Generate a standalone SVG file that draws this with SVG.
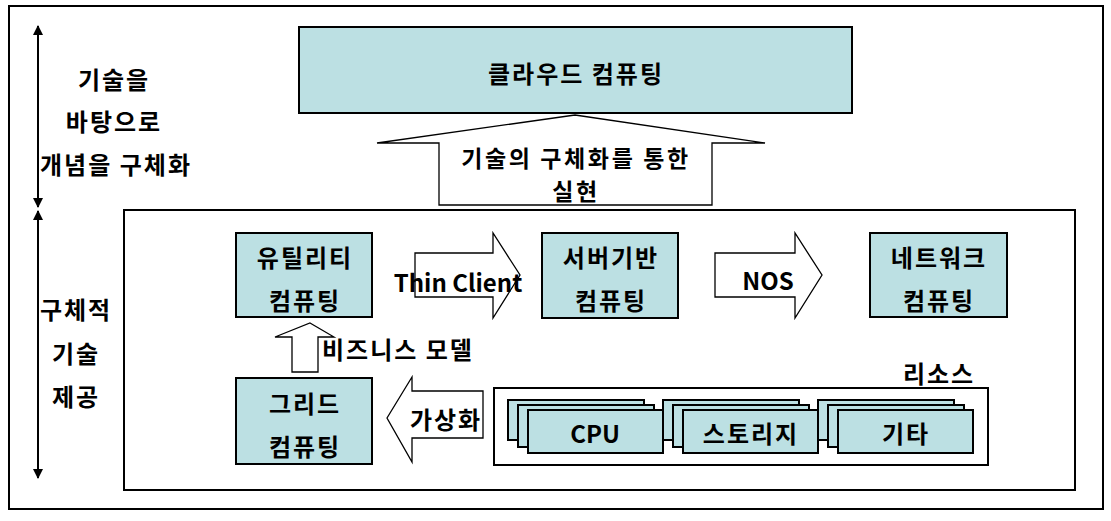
<svg xmlns="http://www.w3.org/2000/svg" width="1111" height="521" viewBox="0 0 1111 521">
<defs>
<style>
.t{font-family:"Noto Sans CJK KR","Noto Sans",sans-serif;font-weight:bold;font-size:24px;letter-spacing:2px;fill:#000;text-anchor:middle;dominant-baseline:central}
.l{letter-spacing:0}
.s{font-size:23px;letter-spacing:2.6px}
.box{fill:#bce0e3;stroke:#000;stroke-width:2}
.frame{fill:#fff;stroke:#000;stroke-width:2}
.arr{fill:#fff;stroke:#000;stroke-width:1.3}
.line{stroke:#000;stroke-width:2;fill:none}
</style>
<marker id="ah" viewBox="0 0 10 10" refX="9" refY="5" markerWidth="5" markerHeight="5" orient="auto-start-reverse">
<path d="M0,0 L10,5 L0,10 z" fill="#000"/>
</marker>
</defs>
<rect width="1111" height="521" fill="#fff"/>
<rect id="outer" class="frame" x="9" y="6" width="1094" height="503"/>
<g id="connectors">
<line class="line" x1="38" y1="26" x2="38" y2="207" marker-start="url(#ah)" marker-end="url(#ah)"/>
<line class="line" x1="38" y1="211" x2="38" y2="478" marker-start="url(#ah)" marker-end="url(#ah)"/>
</g>
<g id="labels-left">
<text class="t" x="114" y="78">기술을</text>
<text class="t" x="114" y="120">바탕으로</text>
<text class="t" x="116" y="163">개념을 구체화</text>
<text class="t" x="76" y="308">구체적</text>
<text class="t" x="76" y="352">기술</text>
<text class="t" x="76" y="395">제공</text>
</g>
<g id="cloud">
<rect class="box" x="299" y="27" width="553" height="86"/>
<text class="t" x="576" y="72">클라우드 컴퓨팅</text>
</g>
<g id="arrow-realize">
<polygon class="arr" points="575,115 765,143 712,143 712,205 439,205 439,143 377,143"/>
<text class="t s" x="576" y="157">기술의 구체화를 통한</text>
<text class="t s" x="576" y="190">실현</text>
</g>
<rect id="inner" class="frame" x="124" y="210" width="951" height="280"/>
<g id="utility">
<rect class="box" x="236" y="233" width="136" height="84"/>
<text class="t" x="305" y="256">유틸리티</text>
<text class="t" x="305" y="299">컴퓨팅</text>
</g>
<g id="server">
<rect class="box" x="542" y="233" width="136" height="85"/>
<text class="t" x="611" y="256">서버기반</text>
<text class="t" x="611" y="299">컴퓨팅</text>
</g>
<g id="network">
<rect class="box" x="870" y="233" width="137" height="84"/>
<text class="t" x="939" y="256">네트워크</text>
<text class="t" x="939" y="299">컴퓨팅</text>
</g>
<g id="grid">
<rect class="box" x="236" y="378" width="136" height="86"/>
<text class="t" x="305" y="402">그리드</text>
<text class="t" x="305" y="445">컴퓨팅</text>
</g>
<g id="arrow-thin">
<polygon class="arr" points="415,253 493,253 493,233 520,275 493,318 493,297 415,297"/>
<text class="t l" x="458" y="281">Thin Client</text>
</g>
<g id="arrow-nos">
<polygon class="arr" points="715,253 795,253 795,233 822,275 795,318 795,297 715,297"/>
<text class="t l" x="768" y="279">NOS</text>
</g>
<g id="arrow-biz">
<polygon class="arr" points="310,323 334,337 318,337 318,372 292,372 292,337 275,337"/>
<text class="t" x="322" y="348" style="text-anchor:start">비즈니스 모델</text>
</g>
<g id="arrow-virt">
<polygon class="arr" points="387,418 412,377 412,391 483,391 483,438 412,438 412,462"/>
<text class="t" x="446" y="418">가상화</text>
</g>
<g id="resources">
<rect class="frame" x="494" y="388" width="494" height="77"/>
<text class="t" x="939" y="372">리소스</text>
<g id="cpu">
<rect class="box" x="508" y="400" width="136" height="40"/>
<rect class="box" x="518" y="405" width="136" height="42"/>
<rect class="box" x="528" y="410" width="135" height="43"/>
<text class="t l" x="595" y="432">CPU</text>
</g>
<g id="storage">
<rect class="box" x="663" y="400" width="136" height="40"/>
<rect class="box" x="673" y="405" width="136" height="42"/>
<rect class="box" x="683" y="410" width="135" height="43"/>
<text class="t" x="751" y="432">스토리지</text>
</g>
<g id="etc">
<rect class="box" x="818" y="400" width="136" height="40"/>
<rect class="box" x="828" y="405" width="136" height="42"/>
<rect class="box" x="838" y="410" width="135" height="43"/>
<text class="t" x="906" y="432">기타</text>
</g>
</g>
</svg>
